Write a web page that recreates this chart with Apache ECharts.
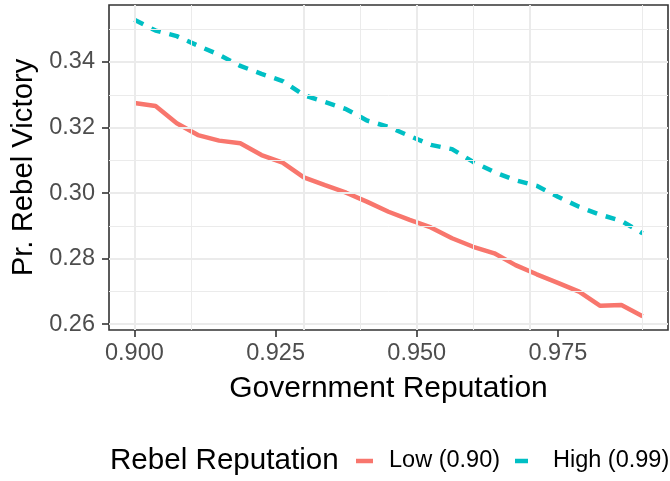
<!DOCTYPE html>
<html>
<head>
<meta charset="utf-8">
<script src="https://cdn.jsdelivr.net/npm/echarts@6/dist/echarts.min.js"></script>
<style>
  html, body { margin: 0; padding: 0; background: #ffffff; }
  #chart { width: 670px; height: 481px; }
</style>
</head>
<body>
<div id="chart"></div>
<script>
// Government reputation (x) and probability of rebel victory for each rebel reputation
const govRep = [0.900, 0.90375, 0.9075, 0.91125, 0.915, 0.91875, 0.9225, 0.92625, 0.93, 0.93375,
	0.9375, 0.94125, 0.945, 0.94875, 0.9525, 0.95625, 0.96, 0.96375, 0.9675, 0.97125,
	0.975, 0.97875, 0.9825, 0.98625, 0.99];
const lowRep = [0.3275, 0.3266, 0.3213, 0.3177, 0.3160, 0.3152, 0.3116, 0.3093, 0.3048, 0.3024,
	0.3001, 0.2973, 0.2943, 0.2918, 0.2895, 0.2862, 0.2836, 0.2816, 0.2780, 0.2752,
	0.2726, 0.2699, 0.2656, 0.2658, 0.2624];
const highRep = [0.3529, 0.3496, 0.3479, 0.3450, 0.3422, 0.3388, 0.3364, 0.3342, 0.3299, 0.3278,
	0.3256, 0.3221, 0.3202, 0.3174, 0.3147, 0.3134, 0.3095, 0.3064, 0.3039, 0.3022,
	0.2989, 0.2958, 0.2934, 0.2915, 0.2877];
const seriesNames = ['Low (0.90)', 'High (0.99)'];
const xTicks = [0.900, 0.925, 0.950, 0.975];
const xMinor = [0.9125, 0.9375, 0.9625, 0.9875];
const yTicks = [0.26, 0.28, 0.30, 0.32, 0.34];
const yMinor = [0.27, 0.29, 0.31, 0.33, 0.35];

const chart = echarts.init(document.getElementById('chart'));
const font = 'Liberation Sans, Arial, sans-serif';

const gridLines = [];
xTicks.forEach(function(v) { gridLines.push({ xAxis: v, lineStyle: { width: 2 } }); });
xMinor.forEach(function(v) { gridLines.push({ xAxis: v, lineStyle: { width: 1 } }); });
yTicks.forEach(function(v) { gridLines.push({ yAxis: v, lineStyle: { width: 2 } }); });
yMinor.forEach(function(v) { gridLines.push({ yAxis: v, lineStyle: { width: 1 } }); });

const legendText = { fontFamily: font, fontSize: 23.5, color: '#000000' };

const option = {
	animation: false,
	backgroundColor: '#ffffff',
	title: {
		text: 'Rebel Reputation',
		left: 110,
		top: 446,
		padding: 0,
		textStyle: { fontFamily: font, fontSize: 29.6, fontWeight: 'normal', color: '#000000' }
	},
	legend: [
		{
			left: 356,
			top: 449,
			padding: 0,
			itemWidth: 17,
			itemHeight: 4.5,
			data: [{ name: seriesNames[0], icon: 'rect' }],
			textStyle: Object.assign({ padding: [0, 0, 0, 11] }, legendText)
		},
		{
			left: 515,
			top: 449,
			padding: 0,
			itemWidth: 13,
			itemHeight: 4.5,
			data: [{ name: seriesNames[1], icon: 'rect' }],
			textStyle: Object.assign({ padding: [0, 0, 0, 20] }, legendText)
		}
	],
	grid: {
		left: 109,
		right: 2,
		top: 5,
		bottom: 151,
		show: true,
		borderColor: '#333333',
		borderWidth: 1.6,
		z: 5
	},
	xAxis: {
		type: 'value',
		min: 0.8955,
		max: 0.9945,
		name: 'Government Reputation',
		nameLocation: 'middle',
		nameGap: 44,
		nameTextStyle: { fontFamily: font, fontSize: 30, color: '#000000' },
		axisLine: { show: false },
		axisTick: { show: true, length: 7, customValues: xTicks, lineStyle: { color: '#333333', width: 1.6 } },
		axisLabel: {
			customValues: xTicks,
			margin: 12,
			fontFamily: font,
			fontSize: 23.5,
			color: '#4D4D4D',
			formatter: function(v) { return v.toFixed(3); }
		},
		splitLine: { show: false }
	},
	yAxis: {
		type: 'value',
		min: 0.2582,
		max: 0.3574,
		name: 'Pr. Rebel Victory',
		nameLocation: 'middle',
		nameGap: 68,
		nameTextStyle: { fontFamily: font, fontSize: 29.3, color: '#000000' },
		axisLine: { show: false },
		axisTick: { show: true, length: 7, customValues: yTicks, lineStyle: { color: '#333333', width: 1.6 } },
		axisLabel: {
			customValues: yTicks,
			margin: 14,
			fontFamily: font,
			fontSize: 23.5,
			color: '#4D4D4D',
			formatter: function(v) { return v.toFixed(2); }
		},
		splitLine: { show: false }
	},
	series: [
		{
			name: 'grid',
			type: 'line',
			data: [],
			z: 1,
			silent: true,
			markLine: {
				silent: true,
				symbol: ['none', 'none'],
				label: { show: false },
				lineStyle: { type: 'solid', color: '#EBEBEB' },
				data: gridLines
			}
		},
		{
			name: seriesNames[0],
			type: 'line',
			z: 3,
			symbol: 'none',
			color: '#F8766D',
			lineStyle: { width: 4.5, color: '#F8766D' },
			data: govRep.map(function(x, i) { return [x, lowRep[i]]; })
		},
		{
			name: seriesNames[1],
			type: 'line',
			z: 3,
			symbol: 'none',
			color: '#00BFC4',
			lineStyle: { width: 4.5, color: '#00BFC4', type: [10, 9] },
			data: govRep.map(function(x, i) { return [x, highRep[i]]; })
		}
	]
};
chart.setOption(option);
</script>
</body>
</html>
